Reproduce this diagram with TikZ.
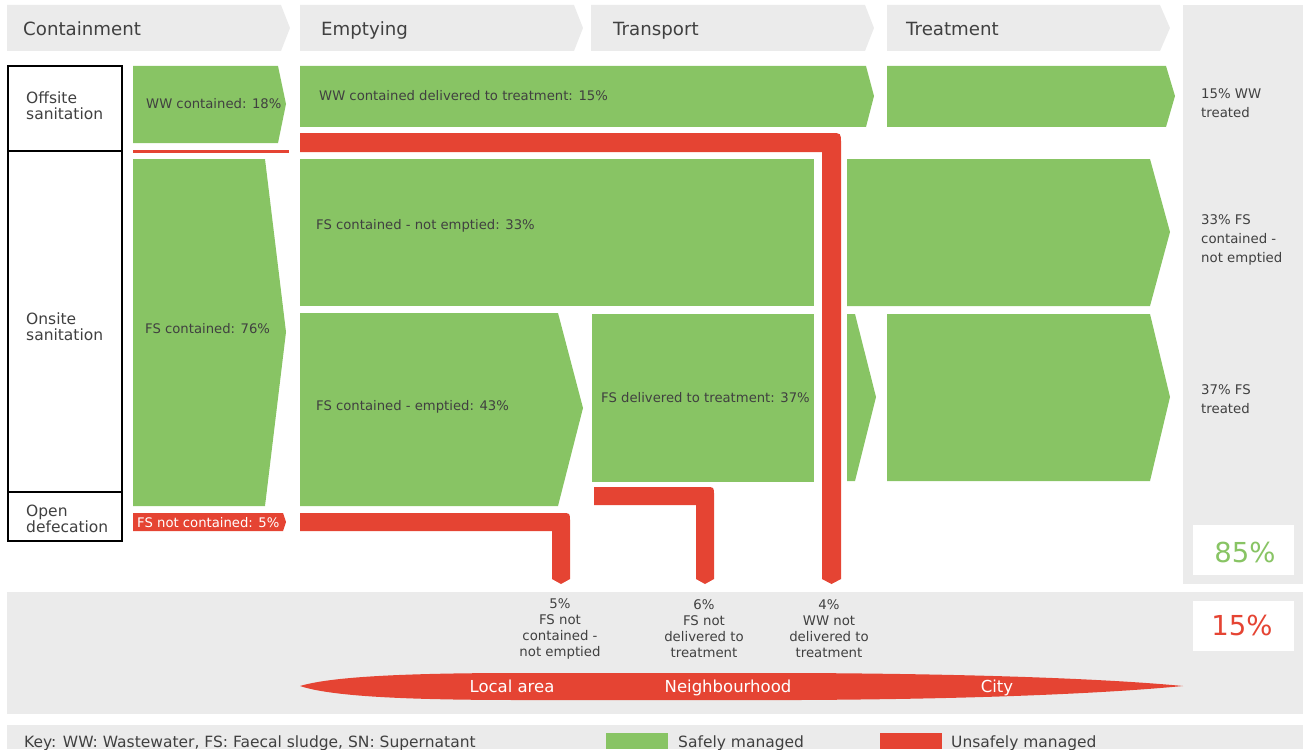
\documentclass[tikz,border=0pt]{standalone}
\usepackage{fontspec}
\setmainfont{DejaVu Sans}
\definecolor{sgreen}{HTML}{88C464}
\definecolor{sred}{HTML}{E54433}
\definecolor{lgray}{HTML}{EBEBEB}
\definecolor{tgray}{HTML}{404040}
\newcommand\myfs[2]{\fontsize{#1}{#2}\selectfont}
\begin{document}
\begin{tikzpicture}[x=1pt,y=-1pt,
  txt/.style={inner sep=0pt, text=tgray, anchor=west, align=left},
  one/.style={anchor=base west},
  head/.style={txt, one, font=\myfs{18.2}{20}},
  side/.style={txt, font=\myfs{15.5}{16}},
  lab/.style={txt, one, font=\myfs{13.2}{16}},
  rlab/.style={txt, font=\myfs{13.3}{19}},
  plab/.style={inner sep=0pt, text=tgray, align=center, font=\myfs{13.3}{16}},
  lens/.style={inner sep=0pt, anchor=base, text=white, font=\myfs{16.5}{18}},
  tot/.style={inner sep=0pt, anchor=base, font=\myfs{27.5}{30}},
  keyt/.style={txt, one, font=\myfs{15.5}{17}},
  safe/.style={fill=sgreen},
  unsafe/.style={fill=sred},
  band/.style={fill=lgray},
  sidebox/.style={draw=black, line width=2pt, fill=white}]
\useasboundingbox (0,0) rectangle (1308,749);

% header chevrons
\fill[band] (7,5) -- (281,5) -- (290,28) -- (281,51) -- (7,51) -- cycle;
\fill[band] (300,5) -- (574,5) -- (583,28) -- (574,51) -- (300,51) -- cycle;
\fill[band] (591,5) -- (865,5) -- (874,28) -- (865,51) -- (591,51) -- cycle;
\fill[band] (887,5) -- (1160,5) -- (1170,28) -- (1160,51) -- (887,51) -- cycle;
\node[head] (hC) at (23,36) {Containment};
\node[head] (hE) at (321,36) {Emptying};
\node[head] (hT) at (613,36) {Transport};
\node[head] (hR) at (906,36) {Treatment};

% right gray column and bottom bands
\fill[band] (1183,5) rectangle (1303,584);
\fill[band] (7,592) rectangle (1303,714);
\fill[band] (7,725) rectangle (1303,749);

% left boxes
\draw[sidebox] (8,66) rectangle (122,151);
\draw[sidebox] (8,151) rectangle (122,492);
\draw[sidebox] (8,492) rectangle (122,541);
\node[side] (off) at (26,106) {Offsite\\sanitation};
\node[side] (on) at (26,327) {Onsite\\sanitation};
\node[side] (od) at (26,519) {Open\\defecation};

% green flows
\fill[safe] (133,66) -- (278,66) -- (286,104) -- (278,143) -- (133,143) -- cycle;
\fill[safe] (300,66) -- (866,66) -- (874,96) -- (866,127) -- (300,127) -- cycle;
\fill[safe] (887,66) -- (1166,66) -- (1175,96) -- (1166,127) -- (887,127) -- cycle;
\fill[safe] (133,159) -- (265,159) -- (286,332) -- (265,506) -- (133,506) -- cycle;
\fill[safe] (300,159) rectangle (814,306);
\fill[safe] (847,159) -- (1150,159) -- (1170,232) -- (1150,306) -- (847,306) -- cycle;
\fill[safe] (300,313) -- (558,313) -- (583,408) -- (558,506) -- (300,506) -- cycle;
\fill[safe] (592,314) rectangle (814,482);
\fill[safe] (847,314) -- (855,314) -- (876,397) -- (855,481) -- (847,481) -- cycle;
\fill[safe] (887,314) -- (1150,314) -- (1170,397) -- (1150,481) -- (887,481) -- cycle;

% red flows
\fill[unsafe] (133,150) rectangle (289,153);
\fill[unsafe] (133,513) -- (283,513) -- (286,522) -- (283,531) -- (133,531) -- cycle;
\fill[unsafe] (300,133) -- (831,133) .. controls (841,133) .. (841,143) -- (841,579)
  -- (831.5,584) -- (822,579) -- (822,152) -- (300,152) -- cycle;
\fill[unsafe] (300,513) -- (562,513) .. controls (570,513) .. (570,521) -- (570,579)
  -- (561,584) -- (552,579) -- (552,531) -- (300,531) -- cycle;
\fill[unsafe] (594,487) -- (706,487) .. controls (714,487) .. (714,495) -- (714,579)
  -- (705,584) -- (696,579) -- (696,505) -- (594,505) -- cycle;

% flow labels
\node[lab] (ww18) at (146,109) {WW contained: 18\%};
\node[lab] (ww15) at (319,101) {WW contained delivered to treatment: 15\%};
\node[lab] (fs33) at (316,229) {FS contained - not emptied: 33\%};
\node[lab] (fs76) at (145,333) {FS contained: 76\%};
\node[lab] (fs43) at (316,410) {FS contained - emptied: 43\%};
\node[lab] (fs37) at (601,402) {FS delivered to treatment: 37\%};
\node[lab, text=white] (fs5) at (137,527) {FS not contained: 5\%};

% right column labels
\node[rlab] (r1) at (1201,103) {15\% WW\\treated};
\node[rlab] (r2) at (1201,240) {33\% FS\\contained -\\not emptied};
\node[rlab] (r3) at (1201,399) {37\% FS\\treated};

% totals
\fill[white] (1193,525) rectangle (1294,575);
\fill[white] (1193,601) rectangle (1294,651);
\node[tot, text=sgreen] (t85) at (1245,562) {85\%};
\node[tot, text=sred] (t15) at (1242,635) {15\%};

% pipe end labels
\node[plab] (p1) at (560,629) {5\%\\FS not\\contained -\\not emptied};
\node[plab] (p2) at (704,629) {6\%\\FS not\\delivered to\\treatment};
\node[plab] (p3) at (829,629) {4\%\\WW not\\delivered to\\treatment};

% lens
\fill[unsafe] (300,686) .. controls (330,677) and (400,673) .. (520,673) -- (800,673)
  .. controls (1000,674) and (1120,680) .. (1183,686)
  .. controls (1120,692) and (1000,699) .. (800,700) -- (520,700)
  .. controls (400,700) and (330,696) .. (300,686) -- cycle;
\node[lens] (la) at (512,692) {Local area};
\node[lens] (nb) at (728,692) {Neighbourhood};
\node[lens] (ct) at (997,692) {City};

% key
\node[keyt] (key) at (24,747) {Key: WW: Wastewater, FS: Faecal sludge, SN: Supernatant};
\fill[safe] (606,733) rectangle (668,749);
\node[keyt] (ks) at (678,747) {Safely managed};
\fill[unsafe] (880,733) rectangle (942,749);
\node[keyt] (ku) at (951,747) {Unsafely managed};
\end{tikzpicture}
\end{document}
